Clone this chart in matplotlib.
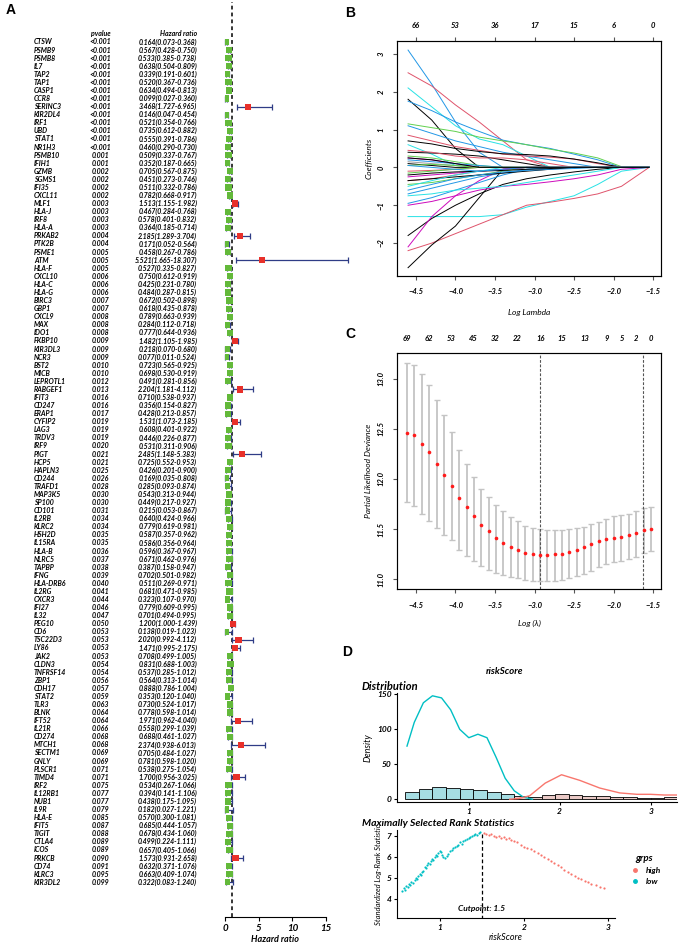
import numpy as np
import matplotlib
matplotlib.use("Agg")
from matplotlib import pyplot as plt
from matplotlib import transforms
from matplotlib.lines import Line2D

plt.rcParams['font.family'] = ['Lato', 'DejaVu Sans']
plt.rcParams['font.style'] = 'italic'
plt.rcParams['font.weight'] = 'bold'

# ---------------- Panel A data (univariate Cox) ----------------
genes = ["CTSW", "PSMB9", "PSMB8", "IL7", "TAP2", "TAP1", "CASP1", "CCR8", "SERINC3", "KIR2DL4",
         "IRF1", "UBD", "STAT1", "NR1H3", "PSMB10", "IFIH1", "GZMB", "SGMS1", "IFI35", "CXCL11",
         "MLF1", "HLA-J", "IRF8", "HLA-A", "PRKAB2", "PTK2B", "PSME1", "ATM", "HLA-F", "CXCL10",
         "HLA-C", "HLA-G", "BIRC3", "GBP1", "CXCL9", "MAX", "IDO1", "FKBP10", "KIR3DL3", "NCR3",
         "BST2", "MICB", "LEPROTL1", "RABGEF1", "IFIT3", "CD247", "ERAP1", "CYFIP2", "LAG3", "TRDV3",
         "IRF9", "PIGT", "HCP5", "HAPLN3", "CD244", "TRAFD1", "MAP3K5", "SP100", "CD101", "IL2RB",
         "KLRC2", "HSH2D", "IL15RA", "HLA-B", "NLRC5", "TAPBP", "IFNG", "HLA-DRB6", "IL2RG", "CXCR3",
         "IFI27", "IL32", "PEG10", "CD6", "TSC22D3", "LY86", "JAK2", "CLDN3", "TNFRSF14", "ZBP1",
         "CDH17", "STAT2", "TLR3", "BLNK", "IFT52", "IL21R", "CD274", "MTCH1", "SECTM1", "GNLY",
         "PLSCR1", "TIMD4", "IRF2", "IL12RB1", "NUB1", "IL9R", "HLA-E", "IFIT5", "TIGIT", "CTLA4",
         "ICOS", "PRKCB", "CD74", "KLRC3", "KIR3DL2"]
pvalues = ["<0.001"] * 14 + [
    "0.001", "0.001", "0.002", "0.002", "0.002", "0.002", "0.003", "0.003", "0.003", "0.003",
    "0.004", "0.004", "0.005", "0.005", "0.005", "0.006", "0.006", "0.006", "0.007", "0.007",
    "0.008", "0.008", "0.008", "0.009", "0.009", "0.009", "0.010", "0.010", "0.012", "0.013",
    "0.016", "0.016", "0.017", "0.019", "0.019", "0.019", "0.020", "0.021", "0.021", "0.025",
    "0.026", "0.028", "0.030", "0.030", "0.031", "0.034", "0.034", "0.035", "0.035", "0.036",
    "0.037", "0.038", "0.039", "0.040", "0.041", "0.044", "0.046", "0.047", "0.050", "0.053",
    "0.053", "0.053", "0.053", "0.054", "0.054", "0.056", "0.057", "0.059", "0.063", "0.064",
    "0.064", "0.066", "0.068", "0.068", "0.069", "0.069", "0.071", "0.071", "0.075", "0.077",
    "0.077", "0.079", "0.085", "0.087", "0.088", "0.089", "0.089", "0.090", "0.091", "0.095",
    "0.099"]
hr = [0.164, 0.567, 0.533, 0.638, 0.339, 0.520, 0.634, 0.099, 3.468, 0.146,
      0.521, 0.735, 0.555, 0.460, 0.509, 0.352, 0.705, 0.451, 0.511, 0.782,
      1.513, 0.467, 0.578, 0.364, 2.185, 0.171, 0.458, 5.521, 0.527, 0.750,
      0.425, 0.484, 0.672, 0.618, 0.789, 0.284, 0.777, 1.482, 0.218, 0.077,
      0.723, 0.698, 0.491, 2.204, 0.710, 0.356, 0.428, 1.531, 0.608, 0.446,
      0.531, 2.485, 0.725, 0.426, 0.169, 0.285, 0.543, 0.449, 0.215, 0.640,
      0.779, 0.587, 0.586, 0.596, 0.671, 0.387, 0.702, 0.511, 0.681, 0.323,
      0.779, 0.701, 1.200, 0.138, 2.020, 1.471, 0.708, 0.831, 0.537, 0.564,
      0.888, 0.353, 0.730, 0.778, 1.971, 0.558, 0.688, 2.374, 0.705, 0.781,
      0.538, 1.700, 0.534, 0.394, 0.438, 0.182, 0.570, 0.685, 0.678, 0.499,
      0.657, 1.573, 0.632, 0.663, 0.322]
hr_low = [0.073, 0.428, 0.385, 0.504, 0.191, 0.367, 0.494, 0.027, 1.727, 0.047,
          0.354, 0.612, 0.391, 0.290, 0.337, 0.187, 0.567, 0.273, 0.332, 0.668,
          1.155, 0.284, 0.401, 0.185, 1.289, 0.052, 0.267, 1.665, 0.335, 0.612,
          0.231, 0.287, 0.502, 0.435, 0.663, 0.112, 0.644, 1.105, 0.070, 0.011,
          0.565, 0.530, 0.281, 1.181, 0.538, 0.154, 0.213, 1.073, 0.401, 0.226,
          0.311, 1.148, 0.552, 0.201, 0.035, 0.093, 0.313, 0.217, 0.053, 0.424,
          0.619, 0.357, 0.356, 0.367, 0.462, 0.158, 0.501, 0.269, 0.471, 0.107,
          0.609, 0.494, 1.000, 0.019, 0.992, 0.995, 0.499, 0.688, 0.285, 0.313,
          0.786, 0.120, 0.524, 0.598, 0.962, 0.299, 0.461, 0.938, 0.484, 0.598,
          0.275, 0.956, 0.267, 0.141, 0.175, 0.027, 0.300, 0.444, 0.434, 0.224,
          0.405, 0.931, 0.371, 0.409, 0.083]
hr_high = [0.368, 0.750, 0.738, 0.809, 0.601, 0.736, 0.813, 0.360, 6.965, 0.454,
           0.766, 0.882, 0.786, 0.730, 0.767, 0.665, 0.875, 0.746, 0.786, 0.917,
           1.982, 0.768, 0.832, 0.714, 3.704, 0.564, 0.786, 18.307, 0.827, 0.919,
           0.780, 0.815, 0.898, 0.878, 0.939, 0.718, 0.936, 1.985, 0.680, 0.524,
           0.925, 0.919, 0.856, 4.112, 0.937, 0.827, 0.857, 2.185, 0.922, 0.877,
           0.906, 5.383, 0.953, 0.900, 0.808, 0.874, 0.944, 0.927, 0.867, 0.966,
           0.981, 0.962, 0.964, 0.967, 0.976, 0.947, 0.982, 0.971, 0.985, 0.970,
           0.995, 0.995, 1.439, 1.023, 4.112, 2.175, 1.005, 1.003, 1.012, 1.014,
           1.004, 1.040, 1.017, 1.014, 4.040, 1.039, 1.027, 6.013, 1.027, 1.020,
           1.054, 3.025, 1.066, 1.106, 1.095, 1.221, 1.081, 1.057, 1.060, 1.111,
           1.066, 2.658, 1.076, 1.074, 1.240]

# ---------------- Panel B data (lasso coefficient paths) ----------------
path_lambda = [-4.6, -4.3, -4.0, -3.7, -3.4, -3.1, -2.8, -2.5, -2.2, -1.9, -1.55]
path_colors = ["blue", "red", "cyan", "black", "blue", "green", "blue", "red", "black", "cyan",
               "black", "green", "magenta", "red", "blue", "black", "gray", "green",
               "cyan", "red", "black", "black", "magenta", "magenta", "blue", "cyan", "blue",
               "green", "red", "black", "blue", "magenta", "black", "red", "cyan", "green",
               "blue", "black"]
path_coefs = [
    [3.1, 2.2, 1.2, 0.4, 0, 0, 0, 0, 0, 0, 0],
    [2.5, 2.15, 1.65, 1.2, 0.7, 0.2, 0, 0, 0, 0, 0],
    [2.1, 1.6, 1.1, 0.75, 0.6, 0.3, 0, 0, 0, 0, 0],
    [1.8, 1.25, 0.5, 0, 0, 0, 0, 0, 0, 0, 0],
    [1.75, 1.5, 1.2, 0.95, 0.72, 0.6, 0.5, 0.35, 0.2, 0.0, 0],
    [1.15, 1.05, 0.95, 0.8, 0.7, 0.6, 0.48, 0.38, 0.25, 0.02, 0],
    [1.1, 0.9, 0.7, 0.55, 0.4, 0.3, 0.2, 0.1, 0, 0, 0],
    [0.85, 0.7, 0.55, 0.45, 0.35, 0.3, 0.27, 0.22, 0.1, 0, 0],
    [0.7, 0.62, 0.5, 0.42, 0.36, 0.34, 0.3, 0.22, 0.12, 0, 0],
    [0.6, 0.35, 0.05, 0, 0, 0, 0, 0, 0, 0, 0],
    [0.4, 0.38, 0.35, 0.3, 0.2, 0.1, 0, 0, 0, 0, 0],
    [0.3, 0.25, 0.15, 0.05, 0, 0, 0, 0, 0, 0, 0],
    [0.25, 0.2, 0.1, 0, 0, 0, 0, 0, 0, 0, 0],
    [0.45, 0.4, 0.3, 0.25, 0.25, 0.2, 0.1, 0, 0, 0, 0],
    [0.2, 0.15, 0.1, 0.05, 0, 0, 0, 0, 0, 0, 0],
    [0.1, 0.05, 0, 0, 0, 0, 0, 0, 0, 0, 0],
    [0.15, 0.1, 0.05, 0, 0, 0, 0, 0, 0, 0, 0],
    [0.05, 0.08, 0.05, 0, 0, 0, 0, 0, 0, 0, 0],
    [-1.3, -1.3, -1.3, -1.3, -1.25, -1.05, -0.9, -0.75, -0.45, -0.1, 0],
    [-2.2, -2.0, -1.75, -1.5, -1.25, -1.0, -0.92, -0.82, -0.7, -0.5, 0],
    [-1.8, -1.35, -1.0, -0.7, -0.45, -0.3, -0.2, -0.12, -0.05, 0, 0],
    [-2.65, -2.05, -1.55, -0.8, -0.05, 0, 0, 0, 0, 0, 0],
    [-2.1, -1.3, -0.75, -0.35, -0.05, 0, 0, 0, 0, 0, 0],
    [-1.0, -0.9, -0.75, -0.6, -0.5, -0.45, -0.38, -0.3, -0.2, -0.05, 0],
    [-0.95, -0.8, -0.6, -0.4, -0.2, -0.05, 0, 0, 0, 0, 0],
    [-0.75, -0.7, -0.6, -0.55, -0.5, -0.4, -0.3, -0.2, -0.1, 0, 0],
    [-0.7, -0.55, -0.4, -0.25, -0.15, -0.05, 0, 0, 0, 0, 0],
    [-0.45, -0.4, -0.3, -0.2, -0.1, 0, 0, 0, 0, 0, 0],
    [-0.35, -0.3, -0.2, -0.1, -0.05, 0, 0, 0, 0, 0, 0],
    [-0.35, -0.3, -0.25, -0.2, -0.15, -0.1, -0.05, 0, 0, 0, 0],
    [-0.6, -0.45, -0.3, -0.2, -0.12, -0.08, -0.05, -0.03, 0, 0, 0],
    [-0.25, -0.2, -0.15, -0.1, -0.05, 0, 0, 0, 0, 0, 0],
    [-0.2, -0.15, -0.12, -0.1, -0.08, -0.05, -0.03, 0, 0, 0, 0],
    [-0.1, -0.08, -0.05, 0, 0, 0, 0, 0, 0, 0, 0],
    [-0.5, -0.35, -0.2, -0.1, 0, 0, 0, 0, 0, 0, 0],
    [-0.15, -0.1, -0.05, 0, 0, 0, 0, 0, 0, 0, 0],
    [0.05, 0.0, -0.05, -0.1, -0.05, 0, 0, 0, 0, 0, 0],
    [0.25, 0.2, 0.1, 0.0, 0, 0, 0, 0, 0, 0, 0],
]
b_top_ticks = [-4.5, -4.0, -3.5, -3.0, -2.5, -2.0, -1.5]
b_top_labels = ["66", "53", "36", "17", "15", "6", "0"]

# ---------------- Panel C data (cross-validation) ----------------
cv_lambda = [-4.61, -4.52, -4.42, -4.33, -4.24, -4.14, -4.05, -3.96, -3.86, -3.77,
             -3.68, -3.58, -3.49, -3.40, -3.30, -3.21, -3.12, -3.02, -2.93, -2.84,
             -2.74, -2.65, -2.56, -2.46, -2.37, -2.28, -2.18, -2.09, -2.00, -1.90,
             -1.81, -1.72, -1.62, -1.53]
cv_mean = [12.46, 12.44, 12.35, 12.27, 12.15, 12.04, 11.93, 11.81, 11.72, 11.63,
           11.54, 11.48, 11.41, 11.36, 11.32, 11.29, 11.26, 11.25, 11.24, 11.24,
           11.25, 11.25, 11.27, 11.29, 11.32, 11.35, 11.38, 11.40, 11.41, 11.42,
           11.44, 11.46, 11.49, 11.50]
cv_upper = [13.16, 13.14, 13.05, 12.94, 12.79, 12.64, 12.47, 12.29, 12.15, 12.02,
            11.90, 11.82, 11.74, 11.68, 11.62, 11.58, 11.53, 11.51, 11.50, 11.49,
            11.49, 11.49, 11.50, 11.51, 11.52, 11.55, 11.57, 11.60, 11.63, 11.64,
            11.65, 11.68, 11.71, 11.72]
cv_lower = [11.77, 11.73, 11.65, 11.58, 11.51, 11.44, 11.39, 11.29, 11.23, 11.18,
            11.13, 11.09, 11.06, 11.04, 11.02, 11.01, 10.99, 10.98, 10.98, 10.98,
            10.98, 10.99, 11.01, 11.03, 11.05, 11.08, 11.12, 11.15, 11.17, 11.18,
            11.20, 11.22, 11.26, 11.28]
lambda_min = -2.93
lambda_1se = -1.63
c_top_pos = [-4.61, -4.34, -4.06, -3.78, -3.50, -3.22, -2.93, -2.66, -2.37, -2.09, -1.90, -1.71, -1.53]
c_top_labels = ["69", "62", "53", "45", "32", "22", "16", "15", "13", "9", "5", "2", "0"]

# ---------------- Panel D data (riskScore cutpoint) ----------------
hist_edges = [0.30, 0.45, 0.60, 0.75, 0.90, 1.05, 1.20, 1.35, 1.50, 1.65, 1.80, 1.95, 2.10,
              2.25, 2.40, 2.55, 2.70, 2.85, 3.00, 3.15, 3.30, 3.45]
hist_counts = [10, 15, 17, 16, 14, 13, 11, 7, 4, 3, 6, 8, 6, 5, 4, 3, 3, 2, 2, 3, 1]
dens_low_x = [0.32, 0.40, 0.50, 0.60, 0.70, 0.80, 0.90, 1.00, 1.10, 1.20, 1.30, 1.40, 1.50, 1.60, 1.70]
dens_low_y = [76, 110, 138, 148, 145, 128, 100, 88, 93, 88, 60, 30, 12, 3, 0]
dens_high_x = [1.45, 1.55, 1.67, 1.84, 2.02, 2.22, 2.44, 2.66, 2.85, 3.00, 3.15, 3.30, 3.45]
dens_high_y = [0, 1, 5, 23, 35, 27, 16, 9, 7, 7, 6, 6, 5]
cutpoint = 1.5
low_x = [0.55, 0.57, 0.59, 0.60, 0.62, 0.63, 0.65, 0.66, 0.68, 0.70, 0.71, 0.73, 0.74, 0.76, 0.77,
         0.79, 0.80, 0.82, 0.83, 0.85, 0.86, 0.88, 0.89, 0.91, 0.92, 0.94, 0.95, 0.97, 0.98, 1.00,
         1.01, 1.03, 1.04, 1.06, 1.08, 1.10, 1.12, 1.14, 1.16, 1.18, 1.20, 1.22, 1.24, 1.26, 1.28,
         1.30, 1.32, 1.34, 1.36, 1.38, 1.40, 1.42, 1.44, 1.46, 1.48]
low_y = [4.35, 4.50, 4.40, 4.60, 4.55, 4.70, 4.65, 4.80, 4.75, 4.90, 5.00, 4.95, 5.10, 5.20, 5.15,
         5.30, 5.35, 5.50, 5.45, 5.60, 5.70, 5.65, 5.80, 5.90, 5.85, 6.00, 6.10, 6.05, 6.20, 6.30,
         6.25, 6.10, 6.00, 5.95, 6.05, 6.15, 6.30, 6.35, 6.45, 6.50, 6.55, 6.60, 6.70, 6.65, 6.75,
         6.80, 6.85, 6.90, 6.95, 7.00, 7.05, 7.10, 7.05, 7.15, 7.20]
high_x = [1.52, 1.55, 1.58, 1.61, 1.64, 1.67, 1.70, 1.73, 1.76, 1.79, 1.82, 1.85, 1.88, 1.92, 1.96,
          2.00, 2.04, 2.08, 2.12, 2.16, 2.20, 2.24, 2.28, 2.32, 2.36, 2.40, 2.44, 2.48, 2.52, 2.56,
          2.60, 2.64, 2.68, 2.72, 2.76, 2.80, 2.85, 2.90, 2.95]
high_y = [7.15, 7.10, 7.05, 7.10, 7.00, 6.95, 7.00, 6.90, 6.95, 6.85, 6.90, 6.80, 6.75, 6.70, 6.60,
          6.50, 6.45, 6.40, 6.30, 6.20, 6.10, 6.00, 5.90, 5.80, 5.70, 5.60, 5.50, 5.40, 5.30, 5.20,
          5.10, 5.00, 4.95, 4.85, 4.80, 4.70, 4.65, 4.55, 4.50]

# ---------------- figure ----------------
W, H = 680, 950
fig = plt.figure(figsize=(6.8, 9.5), dpi=100)


def px_axes(l, t, r, b):
    return fig.add_axes([l / W, 1 - b / H, (r - l) / W, (b - t) / H])


def ftext(x, y, s, **kw):
    fig.text(x / W, 1 - y / H, s, **kw)


R_COL = {"black": "black", "red": "#DF536B", "green": "#61D04F", "blue": "#2297E6",
         "cyan": "#28E2E5", "magenta": "#CD0BBC", "gray": "#9E9E9E"}

# ---- Panel A: forest plot ----
n = len(genes)
rows = np.arange(n)
axA = px_axes(225, 2, 326, 917)
axA.set_xlim(0, 15)
axA.set_ylim(108.3, -4.95)
for s in ["top", "right", "left"]:
    axA.spines[s].set_visible(False)
axA.spines["bottom"].set_bounds(0, 15)
axA.set_yticks([])
axA.set_xticks([0, 5, 10, 15])
axA.tick_params(axis="x", labelsize=7, length=3, pad=2)
axA.axvline(1, color="black", ls=(0, (2.5, 2)), lw=1.1, zorder=1)
hr_a = np.array(hr)
box_col = np.where(hr_a > 1, "#E8302A", "#63B93A")
axA.hlines(rows, hr_low, hr_high, color="#2F3C86", lw=0.9, zorder=2, clip_on=False)
axA.plot(hr_low, rows, "|", color="#2F3C86", ms=4, mew=0.9, zorder=2, clip_on=False)
axA.plot(hr_high, rows, "|", color="#2F3C86", ms=4, mew=0.9, zorder=2, clip_on=False)
axA.scatter(hr, rows, marker="s", s=20, c=box_col, zorder=3, linewidths=0)

tr = transforms.blended_transform_factory(fig.transFigure, axA.transData)
axA.text(100.5 / W, -1.1, "pvalue", transform=tr, ha="center", va="center", fontsize=5)
axA.text(197 / W, -1.1, "Hazard ratio", transform=tr, ha="right", va="center", fontsize=5)
for i in range(n):
    axA.text(34 / W, i, genes[i], transform=tr, ha="left", va="center", fontsize=5)
    axA.text(100.5 / W, i, pvalues[i], transform=tr, ha="center", va="center", fontsize=5)
    axA.text(197 / W, i, "%.3f(%.3f-%.3f)" % (hr[i], hr_low[i], hr_high[i]), transform=tr,
             ha="right", va="center", fontsize=5)
ftext(275, 940, "Hazard ratio", ha="center", va="center", fontsize=6.5)

# ---- Panel B: coefficient paths ----
axB = px_axes(397, 41, 661, 276)
for vals, c in zip(path_coefs, path_colors):
    axB.plot(path_lambda, vals, color=R_COL[c], lw=0.7)
axB.set_xlim(-4.74, -1.40)
axB.set_ylim(-2.87, 3.34)
axB.set_xticks(b_top_ticks)
axB.set_yticks([-2, -1, 0, 1, 2, 3])
axB.tick_params(labelsize=5.5, length=3, color="#555555", pad=6)
for lab in axB.get_yticklabels():
    lab.set_rotation(90)
    lab.set_va("center")
axB.set_ylabel("Coefficients", fontsize=6, labelpad=4)
axB.set_xlabel("Log Lambda", fontsize=6, labelpad=10)
for s in axB.spines.values():
    s.set_color("#555555")
axB2 = axB.twiny()
axB2.set_xlim(axB.get_xlim())
axB2.set_xticks(b_top_ticks)
axB2.set_xticklabels(b_top_labels)
axB2.tick_params(labelsize=5.5, length=3, color="#555555", pad=6)

# ---- Panel C: CV curve ----
axC = px_axes(397, 353, 661, 589)
cv_m = np.array(cv_mean)
axC.errorbar(cv_lambda, cv_mean,
             yerr=[cv_m - np.array(cv_lower), np.array(cv_upper) - cv_m],
             fmt="none", ecolor="#C4C4C4", elinewidth=1.3, capsize=2.3, capthick=1.0)
axC.plot(cv_lambda, cv_mean, "o", color="#FF1A1A", ms=2.6, mec="none", zorder=3)
axC.axvline(lambda_min, color="#555555", ls=(0, (2.5, 1.5)), lw=0.8)
axC.axvline(lambda_1se, color="#555555", ls=(0, (2.5, 1.5)), lw=0.8)
axC.set_xlim(-4.74, -1.40)
axC.set_ylim(10.9, 13.26)
axC.set_xticks(b_top_ticks)
axC.set_yticks([11.0, 11.5, 12.0, 12.5, 13.0])
axC.tick_params(labelsize=5.5, length=3, color="#555555", pad=6)
for lab in axC.get_yticklabels():
    lab.set_rotation(90)
    lab.set_va("center")
axC.set_ylabel("Partial Likelihood Deviance", fontsize=6, labelpad=4)
axC.set_xlabel("Log (λ)", fontsize=6, labelpad=8)
for s in axC.spines.values():
    s.set_color("#555555")
axC2 = axC.twiny()
axC2.set_xlim(axC.get_xlim())
axC2.set_xticks(c_top_pos)
axC2.set_xticklabels(c_top_labels)
axC2.tick_params(labelsize=5.5, length=0, pad=8)

# ---- Panel D: distribution + maxstat ----
LOW_C, HIGH_C = "#00BFC4", "#F8766D"
axD1 = px_axes(397, 693, 677, 802)
edges = np.array(hist_edges)
mids = (edges[:-1] + edges[1:]) / 2
bar_col = np.where(mids < cutpoint, "#A6DDE3", "#E9C9C6")
axD1.bar(edges[:-1], hist_counts, width=np.diff(edges), align="edge", color=bar_col,
         edgecolor="black", lw=0.6)
axD1.plot(dens_low_x, dens_low_y, color=LOW_C, lw=1.0)
axD1.plot(dens_high_x, dens_high_y, color=HIGH_C, lw=1.0)
axD1.set_xlim(0.21, 3.29)
axD1.set_ylim(-4, 152)
axD1.set_xticks([1, 2, 3])
axD1.set_yticks([0, 50, 100, 150])
axD1.tick_params(labelsize=6, length=2.5, pad=1.5)
axD1.spines["top"].set_visible(False)
axD1.spines["right"].set_visible(False)
axD1.set_ylabel("Density", fontsize=6.5, labelpad=3)

axD2 = px_axes(397, 830, 615, 918)
axD2.scatter(low_x, low_y, s=2.5, color=LOW_C, linewidths=0)
axD2.scatter(high_x, high_y, s=2.5, color=HIGH_C, linewidths=0)
axD2.plot([cutpoint, cutpoint], [3.0, max(low_y)], color="black", ls=(0, (3, 2)), lw=0.9)
axD2.text(cutpoint, 3.55, "Cutpoint: 1.5", ha="center", va="center", fontsize=6)
axD2.set_xlim(0.49, 3.08)
axD2.set_ylim(3.07, 7.3)
axD2.set_xticks([1, 2, 3])
axD2.set_yticks([4, 5, 6, 7])
axD2.tick_params(labelsize=6, length=2.5, pad=1.5)
axD2.spines["top"].set_visible(False)
axD2.spines["right"].set_visible(False)
axD2.set_xlabel("riskScore", fontsize=6.5, labelpad=2)
axD2.set_ylabel("Standardized Log-Rank Statistic", fontsize=5.5, labelpad=3)
handles = [Line2D([], [], marker="o", ls="", color=HIGH_C, ms=2.5, label="high"),
           Line2D([], [], marker="o", ls="", color=LOW_C, ms=2.5, label="low")]
leg = axD2.legend(handles=handles, title="grps", loc="center left", bbox_to_anchor=(1.02, 0.55),
                  frameon=False, fontsize=6, title_fontsize=7, handletextpad=0.3)

ftext(505, 671, "riskScore", ha="center", va="center", fontsize=7)
ftext(362, 687, "Distribution", ha="left", va="center", fontsize=8)
ftext(362, 823, "Maximally Selected Rank Statistics", ha="left", va="center", fontsize=7.5)

# panel letters
for lab, x, y in [("A", 6, 10), ("B", 345, 13), ("C", 345, 334), ("D", 342, 652)]:
    ftext(x, y, lab, ha="left", va="center", fontsize=10, fontweight="bold", style="normal",
          family="Liberation Sans")

fig.savefig("out.png", dpi=100)
